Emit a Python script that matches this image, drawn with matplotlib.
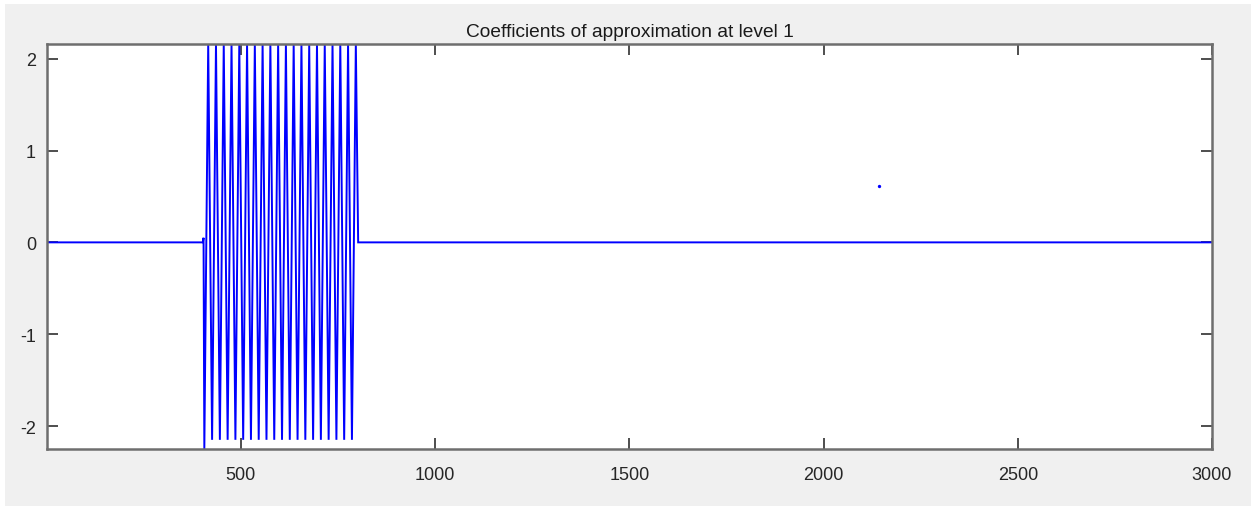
import matplotlib
matplotlib.use("Agg")
import matplotlib.pyplot as plt
from matplotlib.patches import Rectangle

plt.rcParams["axes.unicode_minus"] = False

# ---- data ----
title_text = "Coefficients of approximation at level 1"

# flat part before the burst
pre_x = [1, 402, 404]
pre_y = [0.0, 0.0, 0.05]

# burst: alternating troughs / peaks
burst_x = [406, 416, 426, 436, 446, 456, 466, 476, 486, 496,
           506, 516, 526, 536, 546, 556, 566, 576, 586, 596,
           606, 616, 626, 636, 646, 656, 666, 676, 686, 696,
           706, 716, 726, 736, 746, 756, 766, 776, 786, 796]
burst_y = [-2.25, 2.16, -2.15, 2.16, -2.15, 2.16, -2.15, 2.16, -2.15, 2.16,
           -2.15, 2.16, -2.15, 2.16, -2.15, 2.16, -2.15, 2.16, -2.15, 2.16,
           -2.15, 2.16, -2.15, 2.16, -2.15, 2.16, -2.15, 2.16, -2.15, 2.16,
           -2.15, 2.16, -2.15, 2.16, -2.15, 2.16, -2.15, 2.16, -2.15, 2.16]

# flat part after the burst
post_x = [802, 3000]
post_y = [0.0, 0.0]

# isolated point
dot_x = [2143]
dot_y = [0.61]

x_ticks = [500, 1000, 1500, 2000, 2500, 3000]
y_ticks = [-2, -1, 0, 1, 2]
x_lim = (1, 3000)
y_lim = (-2.25, 2.16)

# ---- figure ----
W, H = 1251, 510
fig = plt.figure(figsize=(W / 100, H / 100), dpi=100, facecolor="white")
bg = Rectangle((5 / W, 3 / H), (W - 5) / W, (H - 8) / H,
               transform=fig.transFigure, facecolor="#f0f0f0",
               edgecolor="none", zorder=-10)
fig.patches.append(bg)

ax = fig.add_axes([47 / W, 1 - 450 / H, (1212 - 47) / W, (450 - 45) / H])
ax.set_zorder(5)
ax.set_facecolor("white")

xs = pre_x + burst_x + post_x
ys = pre_y + burst_y + post_y
ax.plot(xs, ys, color="#0000ff", lw=1.4, solid_joinstyle="miter")
ax.plot(dot_x, dot_y, linestyle="none", marker="o", markersize=2.4,
        color="#0000ff", markeredgewidth=0)

ax.set_xlim(*x_lim)
ax.set_ylim(*y_lim)
ax.set_xticks(x_ticks)
ax.set_yticks(y_ticks)

font = "Liberation Sans"
ax.tick_params(direction="in", length=8, width=1.2, color="#303030",
               top=True, right=True, labelsize=13, labelcolor="#262626")
ax.tick_params(axis="x", pad=12)
ax.tick_params(axis="y", pad=8)
for lab in ax.get_xticklabels() + ax.get_yticklabels():
    lab.set_fontfamily(font)
for s in ax.spines.values():
    s.set_color("#6e6e6e")
    s.set_linewidth(1.8)

ax.set_title(title_text, fontsize=13.8, family=font, color="#1a1a1a", pad=6)

fig.savefig("out.png", dpi=100, facecolor=fig.get_facecolor())
